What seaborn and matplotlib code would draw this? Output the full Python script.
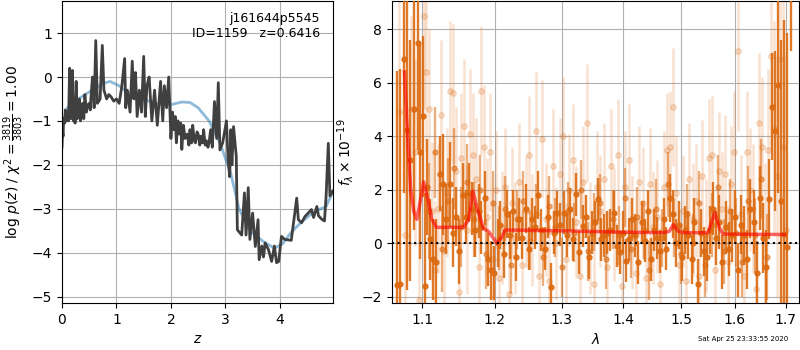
import numpy as np
import pandas as pd
import matplotlib
matplotlib.use("Agg")
import matplotlib.pyplot as plt
import matplotlib.ticker as mticker
import seaborn as sns

# --- left panel: log p(z), (z, log p) pairs ---
pz_points = [
    (0.00, -1.60), (0.01, -1.25), (0.02, -1.35), (0.03, -0.95), (0.05, -1.05),
    (0.06, -0.75), (0.08, -1.00), (0.10, -0.80), (0.12, -1.00), (0.14, 0.20),
    (0.15, -0.90), (0.17, -0.95), (0.19, 0.15), (0.21, -1.00), (0.23, -0.70),
    (0.24, -1.05), (0.26, -0.10), (0.28, -0.95), (0.30, -0.75), (0.32, -0.50),
    (0.34, -1.00), (0.36, -0.85), (0.38, -0.60), (0.40, -0.95), (0.42, -0.40),
    (0.45, -0.80), (0.47, -0.65), (0.50, -0.60), (0.52, -0.75), (0.53, -0.50),
    (0.56, 0.00), (0.59, -0.70), (0.62, 0.83), (0.65, -0.60), (0.70, -0.50),
    (0.74, 0.72), (0.77, -0.30), (0.82, -0.50), (0.86, -0.40), (0.90, -0.45),
    (0.95, -0.55), (1.00, -0.50), (1.05, -0.60), (1.10, -0.20), (1.15, 0.42),
    (1.17, -0.70), (1.20, -0.30), (1.25, -0.80), (1.29, 0.36), (1.32, -0.50),
    (1.35, 0.10), (1.38, -0.90), (1.42, -0.30), (1.46, -0.80), (1.50, 0.47),
    (1.53, -0.90), (1.56, -0.20), (1.60, 0.00), (1.65, -1.00), (1.70, -0.30),
    (1.75, -1.10), (1.81, -0.10), (1.85, -1.00), (1.88, -0.20), (1.92, -0.70),
    (1.96, 0.00), (2.00, -1.40), (2.03, -0.80), (2.05, -1.20), (2.08, -0.90),
    (2.10, -1.50), (2.13, -1.00), (2.15, -1.30), (2.18, -1.05), (2.20, -1.65),
    (2.23, -1.10), (2.26, -1.40), (2.30, -1.30), (2.33, -1.55), (2.35, -1.20),
    (2.38, -1.50), (2.40, -1.10), (2.43, -1.45), (2.45, -1.50), (2.48, -1.25),
    (2.50, -1.30), (2.53, -1.55), (2.55, -1.35), (2.58, -1.50), (2.60, -1.20),
    (2.63, -1.55), (2.65, -1.45), (2.68, -1.60), (2.70, -1.50), (2.73, -1.20),
    (2.76, -1.60), (2.80, -0.56), (2.84, -1.40), (2.87, -0.13), (2.90, -1.66),
    (2.95, -1.50), (3.02, -1.00), (3.05, -1.90), (3.08, -2.27), (3.10, -1.20),
    (3.12, -2.00), (3.15, -1.13), (3.20, -1.81), (3.22, -3.48), (3.30, -3.60),
    (3.35, -2.64), (3.38, -3.60), (3.42, -2.52), (3.45, -3.70), (3.50, -3.10),
    (3.55, -3.86), (3.60, -3.25), (3.62, -4.16), (3.67, -3.85), (3.70, -4.10),
    (3.73, -3.78), (3.79, -3.93), (3.85, -4.20), (3.90, -3.85), (3.94, -4.23),
    (3.98, -4.20), (4.03, -3.63), (4.09, -3.70), (4.21, -3.72), (4.31, -2.76),
    (4.34, -3.25), (4.40, -3.32), (4.46, -3.18), (4.52, -3.10), (4.58, -3.02),
    (4.62, -3.20), (4.68, -2.95), (4.71, -3.16), (4.77, -3.24), (4.82, -3.28),
    (4.85, -2.71), (4.89, -1.51), (4.92, -2.71), (4.97, -2.60),
]

z_smooth = [0.00, 0.10, 0.30, 0.55, 0.75, 0.88, 1.05, 1.20, 1.40, 1.60, 1.80, 2.00,
            2.20, 2.35, 2.50, 2.70, 2.90, 3.10, 3.25, 3.45, 3.70, 3.90, 4.05, 4.20,
            4.40, 4.60, 4.75, 4.85, 4.98]
logpz_smooth = [-1.10, -0.70, -0.50, -0.30, -0.15, -0.10, -0.20, -0.35, -0.45, -0.55,
                -0.63, -0.63, -0.57, -0.58, -0.70, -1.00, -1.50, -2.20, -3.00, -3.50,
                -3.75, -3.90, -3.80, -3.55, -3.30, -3.10, -3.00, -2.95, -2.60]

# --- right panel: spectrum ---
lam_dark = [1.067, 1.071, 1.076, 1.080, 1.084, 1.089, 1.094, 1.097, 1.101, 1.104,
            1.107, 1.111, 1.115, 1.119, 1.124, 1.128, 1.132, 1.137, 1.141, 1.146,
            1.150, 1.155, 1.159, 1.164, 1.168, 1.172, 1.177, 1.181, 1.186, 1.190,
            1.195, 1.199, 1.204, 1.208, 1.213, 1.217, 1.222, 1.226, 1.231, 1.236,
            1.240, 1.245, 1.250, 1.254, 1.259, 1.264, 1.269, 1.274, 1.279, 1.283,
            1.288, 1.293, 1.298, 1.303, 1.308, 1.313, 1.318, 1.323, 1.328, 1.333,
            1.338, 1.343, 1.348, 1.353, 1.358, 1.363, 1.368, 1.373, 1.378, 1.384,
            1.389, 1.394, 1.399, 1.404, 1.410, 1.415, 1.420, 1.425, 1.431, 1.436,
            1.441, 1.447, 1.452, 1.458, 1.463, 1.469, 1.474, 1.480, 1.485, 1.491,
            1.496, 1.502, 1.507, 1.513, 1.519, 1.524, 1.530, 1.536, 1.541, 1.547,
            1.553, 1.559, 1.564, 1.570, 1.576, 1.582, 1.588, 1.594, 1.600, 1.606,
            1.612, 1.618, 1.624, 1.630, 1.636, 1.642, 1.648, 1.654, 1.660, 1.666,
            1.672, 1.678, 1.684, 1.690, 1.696, 1.702, 1.712]
flux_dark = [-1.55, -1.50, 6.90, 4.25, 3.10, 5.00, 7.50, 3.40, 4.75, -1.60,
             2.10, 0.15, -0.60, -0.70, 2.60, 2.20, 0.90, 2.20, 0.40, 1.00,
             -0.30, 1.80, 1.00, 1.90, 1.30, 0.50, 1.20, 0.60, 1.70, -0.60,
             -1.00, -1.10, 0.00, 0.70, -0.40, 1.10, 0.30, 1.20, -0.50, 0.90,
             0.20, 1.30, -0.20, 0.90, 0.60, 1.80, 0.50, -0.20, 1.00, -1.64,
             0.40, 1.15, 0.70, 1.15, 0.30, 1.28, 0.16, 1.84, -0.33, 0.65,
             1.00, -0.52, 0.40, 0.78, 1.65, 0.16, 0.30, 0.40, 0.50, 1.15,
             -0.10, -0.33, 0.40, -0.65, 0.16, 0.90, 0.30, -0.70, 0.80, 0.10,
             1.20, -0.60, 0.50, 0.20, -0.30, 0.90, -0.20, 1.70, 1.10, 0.00,
             0.70, -0.50, 0.50, 0.30, -0.60, 0.80, -1.50, 0.40, -0.30, -0.50,
             0.50, 1.30, 0.20, 0.80, -0.70, 0.60, -0.20, 0.30, 1.00, -1.00,
             0.70, 0.30, -0.60, 1.30, 0.80, -1.10, 1.70, 0.20, -0.90, 1.65,
             5.10, 4.20, 5.90, 1.60, 0.35, -0.15, 12.0]
err_dark = [8.0, 8.0, 5.0, 6.0, 4.5, 4.5, 4.0, 4.0, 3.0, 3.5,
            1.8, 1.5, 1.5, 1.6, 1.4, 1.9, 1.3, 1.6, 1.3, 1.1,
            1.2, 1.2, 1.0, 1.1, 1.0, 1.0, 1.0, 1.0, 1.0, 1.0,
            1.1, 1.0, 0.9, 0.9, 0.9, 0.9, 0.9, 0.8, 0.9, 0.8,
            0.8, 0.9, 0.8, 0.8, 0.8, 0.9, 0.8, 0.8, 0.8, 0.9,
            0.8, 0.8, 0.8, 0.8, 0.8, 0.8, 0.8, 0.8, 0.8, 0.8,
            0.8, 0.8, 0.8, 0.8, 0.8, 0.8, 0.8, 0.8, 0.8, 0.8,
            0.8, 0.8, 0.8, 0.8, 0.8, 0.8, 0.8, 0.8, 0.8, 0.8,
            0.8, 0.8, 0.8, 0.8, 0.8, 0.8, 0.8, 0.9, 0.9, 0.9,
            0.9, 0.9, 0.9, 0.9, 0.9, 0.9, 0.9, 0.9, 0.9, 0.9,
            0.9, 1.0, 1.0, 1.0, 1.0, 1.0, 1.0, 1.0, 1.0, 1.0,
            1.1, 1.1, 1.1, 1.1, 1.2, 1.2, 1.2, 1.3, 1.4, 1.5,
            2.0, 3.0, 4.0, 6.0, 8.0, 8.0, 4.8]

lam_mid = [1.109, 1.117, 1.126, 1.134, 1.143, 1.152, 1.161, 1.170, 1.179, 1.188,
           1.197, 1.206, 1.215, 1.224, 1.233, 1.242, 1.252, 1.261, 1.271, 1.281,
           1.290, 1.300, 1.310, 1.320, 1.330, 1.341, 1.351, 1.361, 1.371, 1.382,
           1.392, 1.402, 1.413, 1.423, 1.434, 1.444, 1.455, 1.466, 1.477, 1.488,
           1.499, 1.510, 1.521, 1.533, 1.544, 1.556, 1.567, 1.579, 1.590, 1.602,
           1.614, 1.626, 1.638, 1.650, 1.662]
flux_mid = [1.2, 3.4, -0.2, 1.6, 2.8, 0.6, 2.3, 0.9, 2.0, -0.4,
            1.5, 0.2, 1.3, -0.8, 0.9, 1.6, 0.1, 1.1, -0.5, 1.4,
            0.6, -0.9, 1.2, 0.4, 2.0, -0.3, 0.8, 1.5, -0.6, 0.9,
            0.3, 1.7, -0.2, 1.0, 0.5, -1.0, 1.3, 0.2, 2.2, 0.6,
            -0.4, 1.1, 0.0, 1.5, -0.8, 0.7, 2.1, -0.3, 1.2, 0.4,
            -0.7, 1.6, 0.3, 2.4, -0.5]
err_mid = [1.8, 1.7, 1.6, 1.6, 1.5, 1.5, 1.4, 1.4, 1.3, 1.3,
           1.2, 1.2, 1.2, 1.1, 1.1, 1.1, 1.1, 1.1, 1.1, 1.1,
           1.1, 1.1, 1.1, 1.1, 1.1, 1.1, 1.1, 1.1, 1.1, 1.1,
           1.1, 1.1, 1.1, 1.1, 1.1, 1.1, 1.1, 1.1, 1.2, 1.1,
           1.1, 1.1, 1.1, 1.2, 1.2, 1.2, 1.2, 1.2, 1.2, 1.3,
           1.3, 1.3, 1.4, 1.5, 1.6]

lam_light = [1.070, 1.078, 1.086, 1.091, 1.096, 1.102, 1.105, 1.109, 1.113, 1.117,
             1.121, 1.125, 1.129, 1.133, 1.137, 1.141, 1.145, 1.149, 1.153, 1.157,
             1.161, 1.165, 1.169, 1.173, 1.177, 1.181, 1.185, 1.189, 1.193, 1.197,
             1.202, 1.206, 1.211, 1.215, 1.220, 1.225, 1.230, 1.235, 1.240, 1.245,
             1.250, 1.255, 1.260, 1.265, 1.270, 1.276, 1.281, 1.286, 1.291, 1.297,
             1.302, 1.307, 1.312, 1.318, 1.323, 1.329, 1.334, 1.340, 1.345, 1.351,
             1.356, 1.362, 1.368, 1.373, 1.379, 1.385, 1.391, 1.397, 1.403, 1.409,
             1.415, 1.421, 1.427, 1.433, 1.439, 1.445, 1.451, 1.457, 1.463, 1.469,
             1.475, 1.480, 1.485, 1.491, 1.497, 1.503, 1.509, 1.515, 1.521, 1.527,
             1.533, 1.539, 1.545, 1.551, 1.557, 1.563, 1.569, 1.575, 1.581, 1.587,
             1.593, 1.599, 1.605, 1.611, 1.617, 1.623, 1.629, 1.635, 1.641, 1.647,
             1.653, 1.659, 1.665, 1.671, 1.677, 1.683, 1.689, 1.695, 1.700]
flux_light = [4.9, 0.3, 5.0, 3.4, -2.1, 8.5, 6.4, 5.0, 1.2, -1.0,
              1.3, 4.8, -0.3, 1.9, 5.7, 5.6, 2.7, -1.8, 3.2, 4.4,
              0.5, 4.1, 3.3, 2.4, -0.9, 5.7, 3.6, 1.0, 3.4, -0.6,
              2.0, -1.3, 0.6, 2.1, -1.9, 1.5, 0.2, 2.3, -0.8, 1.2,
              3.3, 0.5, 4.2, -1.2, 3.9, 0.9, -1.4, 2.9, 0.0, 2.6,
              4.0, -0.6, 2.0, 3.1, 0.8, -1.2, 2.3, 4.5, 0.2, -1.5,
              2.1, 1.2, 2.4, -0.9, 2.9, 0.7, 3.3, -1.6, 2.1, 3.1,
              0.4, -1.1, 2.3, 1.5, -1.3, 2.2, 0.6, 1.0, -1.5, 2.1,
              3.5, 3.6, 5.1, 1.9, -0.8, 1.2, -1.4, 2.4, 0.9, 1.6,
              -1.2, 2.5, 0.3, 3.2, 3.3, -1.0, 2.7, 1.3, 2.6, -0.7,
              2.2, 3.4, 7.2, 1.1, -1.2, 3.4, 2.0, 1.3, -1.7, 4.5,
              3.6, 0.2, 3.5, 7.0, 4.3, 2.5, 6.9, 3.6, 0.5]
err_light = [4.5, 4.0, 3.5, 3.5, 3.5, 3.5, 3.0, 3.0, 2.6, 2.6,
             2.4, 2.8, 2.4, 2.4, 2.6, 2.6, 2.4, 2.4, 2.4, 2.5,
             2.4, 2.4, 2.3, 2.3, 2.3, 2.4, 2.3, 2.2, 2.2, 2.2,
             2.2, 2.2, 2.1, 2.2, 2.1, 2.1, 2.1, 2.2, 2.1, 2.1,
             2.2, 2.1, 2.2, 2.1, 2.2, 2.1, 2.1, 2.1, 2.1, 2.1,
             2.2, 2.1, 2.1, 2.1, 2.1, 2.1, 2.1, 2.2, 2.1, 2.1,
             2.1, 2.1, 2.1, 2.1, 2.1, 2.1, 2.1, 2.1, 2.1, 2.1,
             2.1, 2.1, 2.1, 2.1, 2.1, 2.1, 2.1, 2.1, 2.1, 2.1,
             2.1, 2.1, 2.2, 2.1, 2.1, 2.1, 2.1, 2.1, 2.1, 2.1,
             2.1, 2.1, 2.1, 2.2, 2.2, 2.1, 2.2, 2.1, 2.2, 2.1,
             2.2, 2.3, 3.0, 2.2, 2.2, 2.3, 2.3, 2.4, 2.4, 2.6,
             2.6, 2.8, 3.0, 3.5, 4.0, 4.5, 5.5, 6.5, 6.5]

lam_model = [1.077, 1.081, 1.085, 1.089, 1.093, 1.097, 1.102, 1.108, 1.113, 1.119,
             1.156, 1.163, 1.169, 1.175, 1.184, 1.191, 1.203, 1.209, 1.215, 1.300,
             1.400, 1.468, 1.479, 1.486, 1.495, 1.504, 1.549, 1.556, 1.562, 1.570,
             1.577, 1.698]
flux_model = [6.40, 4.00, 2.00, 1.20, 0.90, 1.50, 2.30, 1.60, 0.90, 0.60,
              0.60, 0.90, 1.95, 1.30, 0.55, 0.45, 0.00, 0.20, 0.50, 0.47,
              0.42, 0.40, 0.45, 0.70, 0.45, 0.40, 0.40, 0.80, 1.15, 0.60,
              0.35, 0.33]

orange = "#dc6a10"

fig = plt.figure(figsize=(8, 3.5), dpi=100)
ax1 = fig.add_axes([0.0775, 0.134, 0.339, 0.863])
ax2 = fig.add_axes([0.49, 0.134, 0.509, 0.863])

# left: redshift PDF
pz = pd.DataFrame(pz_points, columns=["z", "logp"])
sm = pd.DataFrame({"z": z_smooth, "logp": logpz_smooth})
sns.lineplot(data=sm, x="z", y="logp", ax=ax1, color="tab:blue", alpha=0.5,
             linewidth=2, estimator=None, sort=False)
sns.lineplot(data=pz, x="z", y="logp", ax=ax1, color="0.25", alpha=1,
             linewidth=2, estimator=None, sort=False)
ax1.set_xlim(0, 4.98)
ax1.set_ylim(-5.15, 1.73)
ax1.grid(True)
ax1.set_xlabel("$z$")
ax1.set_ylabel(r"log $p(z)$ / $\chi^2=\frac{3819}{3803}=1.00$")
ax1.text(0.95, 0.965, "j161644p5545\nID=1159   z=0.6416", transform=ax1.transAxes,
         ha="right", va="top", fontsize=9)

# right: spectrum
ax2.errorbar(lam_light, flux_light, yerr=err_light, fmt="o", color=orange,
             alpha=0.2, markersize=4, elinewidth=1.8, linestyle="none", zorder=2)
ax2.errorbar(lam_mid, flux_mid, yerr=err_mid, fmt="o", color=orange,
             alpha=0.55, markersize=3.5, elinewidth=1.7, linestyle="none", zorder=2.5)
ax2.errorbar(lam_dark, flux_dark, yerr=err_dark, fmt="o", color=orange,
             alpha=0.9, markersize=3.5, elinewidth=1.7, linestyle="none", zorder=3)
mod = pd.DataFrame({"lam": lam_model, "flux": flux_model})
sns.lineplot(data=mod, x="lam", y="flux", ax=ax2, color="red", alpha=0.6,
             linewidth=2.5, estimator=None, sort=False, zorder=4)
ax2.axhline(0, color="k", linestyle=":", linewidth=1.5, zorder=5)
ax2.set_xscale("log")
ax2.set_xlim(1.061, 1.728)
ax2.set_ylim(-2.23, 9.05)
ax2.xaxis.set_major_locator(mticker.FixedLocator([1.1, 1.2, 1.3, 1.4, 1.5, 1.6, 1.7]))
ax2.xaxis.set_major_formatter(mticker.FixedFormatter(["1.1", "1.2", "1.3", "1.4", "1.5", "1.6", "1.7"]))
ax2.xaxis.set_minor_locator(mticker.NullLocator())
ax2.grid(True)
ax2.set_xlabel(r"$\lambda$")
ax2.set_ylabel(r"$f_\lambda \times 10^{-19}$")

fig.text(0.985, 0.03, "Sat Apr 25 23:33:55 2020", ha="right", va="center", fontsize=5)

fig.savefig("out.png", dpi=100)
